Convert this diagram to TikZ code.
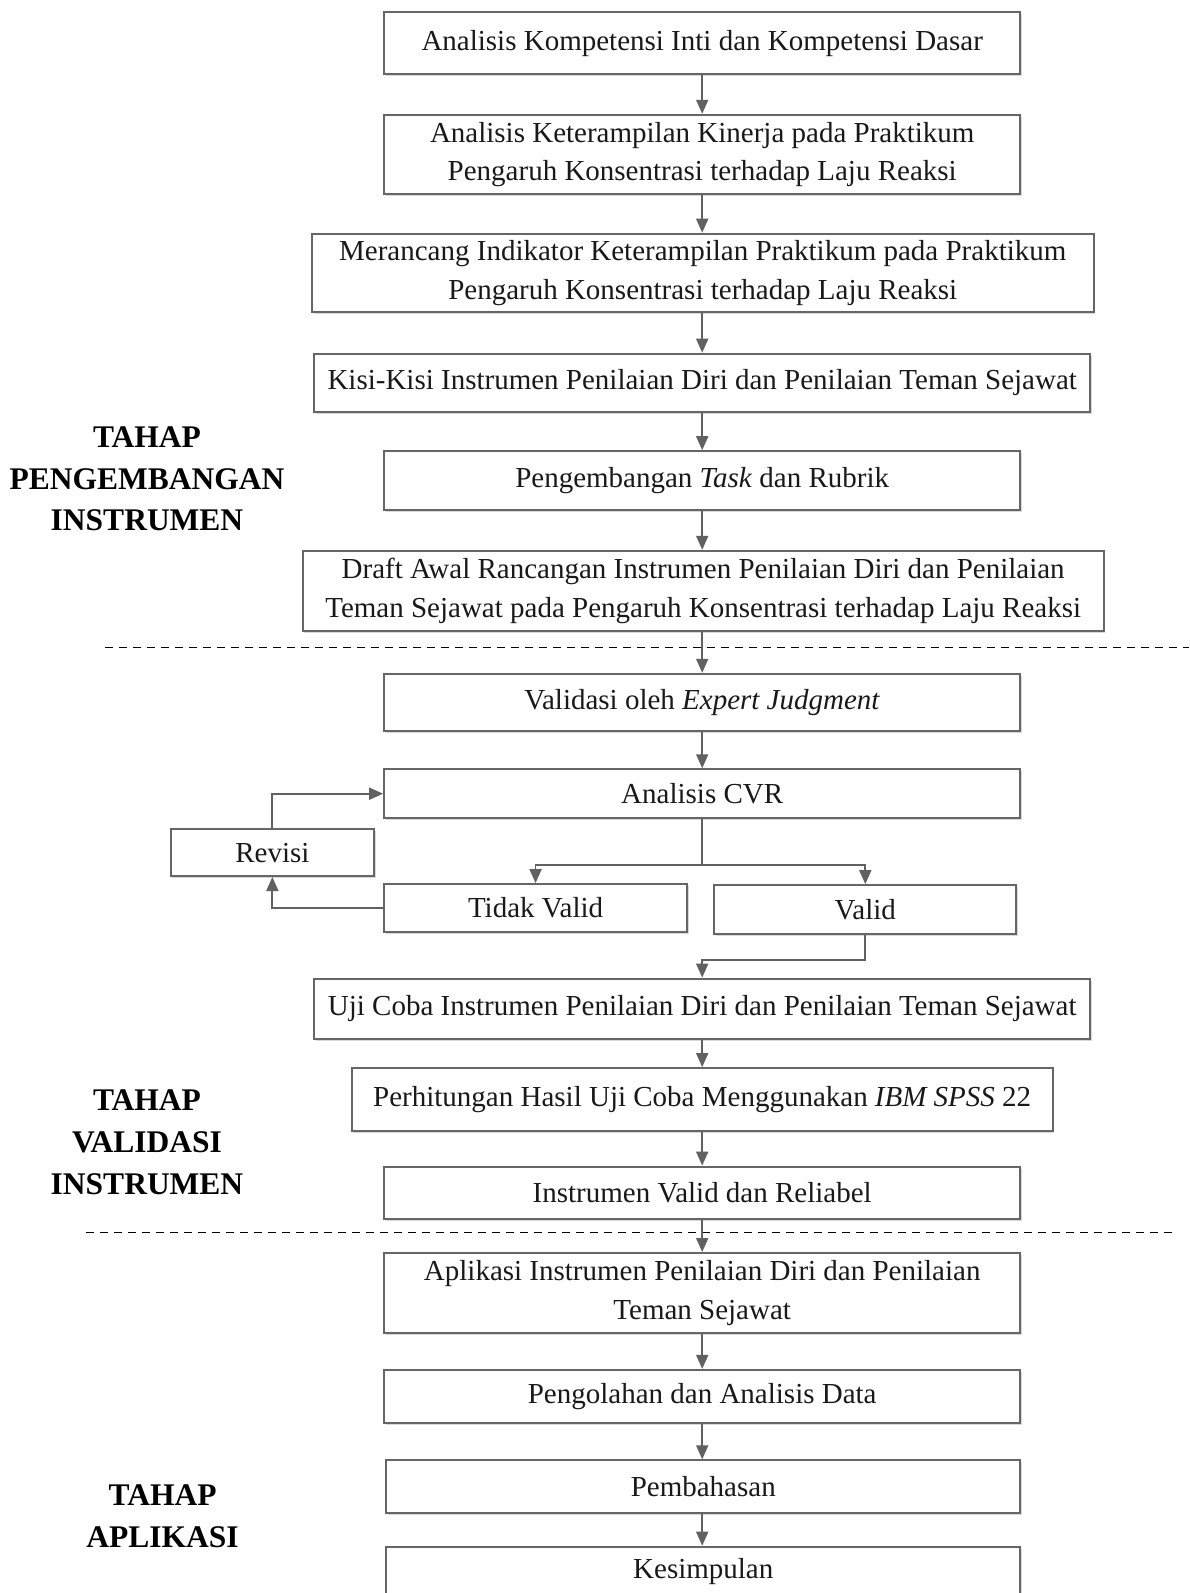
\documentclass[tikz,border=0pt]{standalone}
\usepackage{fontspec}
\setmainfont{Liberation Serif}
\usetikzlibrary{arrows.meta,shadows}
\begin{document}
\begin{tikzpicture}[x=1pt,y=-1pt,
  box/.style={draw=black!60, line width=2pt, fill=white, align=center, inner sep=0pt,
    font=\fontsize{29}{38.6}\selectfont, text=black!90,
    drop shadow={shadow xshift=1.5pt, shadow yshift=-2pt, fill=black!25, opacity=0.6}},
  arr/.style={draw=black!62, line width=1.8pt, -{Triangle[width=12pt,length=14pt]}},
  ln/.style={draw=black!62, line width=1.8pt},
  dash line/.style={draw=black, line width=1.5pt, dash pattern=on 8pt off 6pt},
  stage/.style={font=\fontsize{31.5}{41.6}\selectfont\bfseries, align=center, text=black}]
\useasboundingbox (0,0) rectangle (1189,1593);
\fill[white] (0,0) rectangle (1189,1593);

\node[box, minimum width=636.2, minimum height=62] (b1) at (702.2,43.2) {Analisis Kompetensi Inti dan Kompetensi Dasar};
\node[box, minimum width=636.2, minimum height=79.3] (b2) at (702.2,154.45) {Analisis Keterampilan Kinerja pada Praktikum\\Pengaruh Konsentrasi terhadap Laju Reaksi};
\node[box, minimum width=781.5, minimum height=78.3] (b3) at (702.75,272.85) {Merancang Indikator Keterampilan Praktikum pada Praktikum\\Pengaruh Konsentrasi terhadap Laju Reaksi};
\node[box, minimum width=776.4, minimum height=57.9] (b4) at (702.2,382.65) {Kisi-Kisi Instrumen Penilaian Diri dan Penilaian Teman Sejawat};
\node[box, minimum width=636.2, minimum height=59] (b5) at (702.2,480.7) {Pengembangan \textit{Task} dan Rubrik};
\node[box, minimum width=800.8, minimum height=80.3] (b6) at (703.2,590.95) {Draft Awal Rancangan Instrumen Penilaian Diri dan Penilaian\\Teman Sejawat pada Pengaruh Konsentrasi terhadap Laju Reaksi};
\node[box, minimum width=636.2, minimum height=56.9] (b7) at (702.2,702.25) {Validasi oleh \textit{Expert Judgment}};
\node[box, minimum width=636.2, minimum height=48.8] (cvr) at (702.2,793.7) {Analisis CVR};
\node[box, minimum width=203.3, minimum height=46.7] (rev) at (272.35,852.65) {Revisi};
\node[box, minimum width=302.9, minimum height=47.8] (tv) at (535.55,908) {Tidak Valid};
\node[box, minimum width=301.8, minimum height=48.8] (va) at (865.3,909.5) {Valid};
\node[box, minimum width=776.4, minimum height=60] (uji) at (702.2,1008.6) {Uji Coba Instrumen Penilaian Diri dan Penilaian Teman Sejawat};
\node[box, minimum width=701.2, minimum height=63] (hit) at (702.2,1099.6) {Perhitungan Hasil Uji Coba Menggunakan \textit{IBM SPSS} 22};
\node[box, minimum width=636.2, minimum height=51.9] (ivr) at (702.2,1192.55) {Instrumen Valid dan Reliabel};
\node[box, minimum width=636.2, minimum height=80.3] (apl) at (702.2,1293.15) {Aplikasi Instrumen Penilaian Diri dan Penilaian\\Teman Sejawat};
\node[box, minimum width=636.2, minimum height=52.8] (olah) at (702.2,1396.3) {Pengolahan dan Analisis Data};
\node[box, minimum width=634.1, minimum height=52.9] (bhs) at (703.25,1486.75) {Pembahasan};
\node[box, minimum width=634.1, minimum height=49.3] (kes) at (703.25,1571.35) {Kesimpulan};

% dashed separators
\coordinate (d1a) at (104.7,647.3); \coordinate (d1b) at (1189,647.3);
\coordinate (d2a) at (86.4,1232.7); \coordinate (d2b) at (1173.8,1232.7);
\draw[dash line] (d1a) -- (d1b);
\draw[dash line] (d2a) -- (d2b);

% stage labels
\node[stage] (s1) at (147,479) {TAHAP\\PENGEMBANGAN\\INSTRUMEN};
\node[stage] (s2) at (147,1142.2) {TAHAP\\VALIDASI\\INSTRUMEN};
\node[stage] (s3) at (162.6,1516.3) {TAHAP\\APLIKASI};

% arrows
\draw[arr] (b1.south) -- (b2.north);
\draw[arr] (b2.south) -- (b3.north -| b2.south);
\draw[arr] (b3.south -| b2.south) -- (b4.north);
\draw[arr] (b4.south) -- (b5.north);
\draw[arr] (b5.south) -- (b6.north -| b5.south);
\draw[arr] (b6.south -| b5.south) -- (b7.north);
\draw[arr] (b7.south) -- (cvr.north);
\coordinate (br) at (702.2,864.8);
\draw[ln] (cvr.south) -- (br);
\draw[arr] (br) -| (tv.north);
\draw[arr] (br) -| (va.north);
\draw[arr] (rev.north) |- (cvr.west);
\draw[arr] (tv.west) -| (rev.south);
\coordinate (vj) at (702.2,960.3);
\draw[arr] (va.south) |- (vj) -- (uji.north);
\draw[arr] (uji.south) -- (hit.north);
\draw[arr] (hit.south) -- (ivr.north);
\draw[arr] (ivr.south) -- (apl.north);
\draw[arr] (apl.south) -- (olah.north);
\draw[arr] (olah.south) -- (bhs.north -| olah.south);
\draw[arr] (bhs.south -| olah.south) -- (kes.north -| olah.south);
\end{tikzpicture}
\end{document}
